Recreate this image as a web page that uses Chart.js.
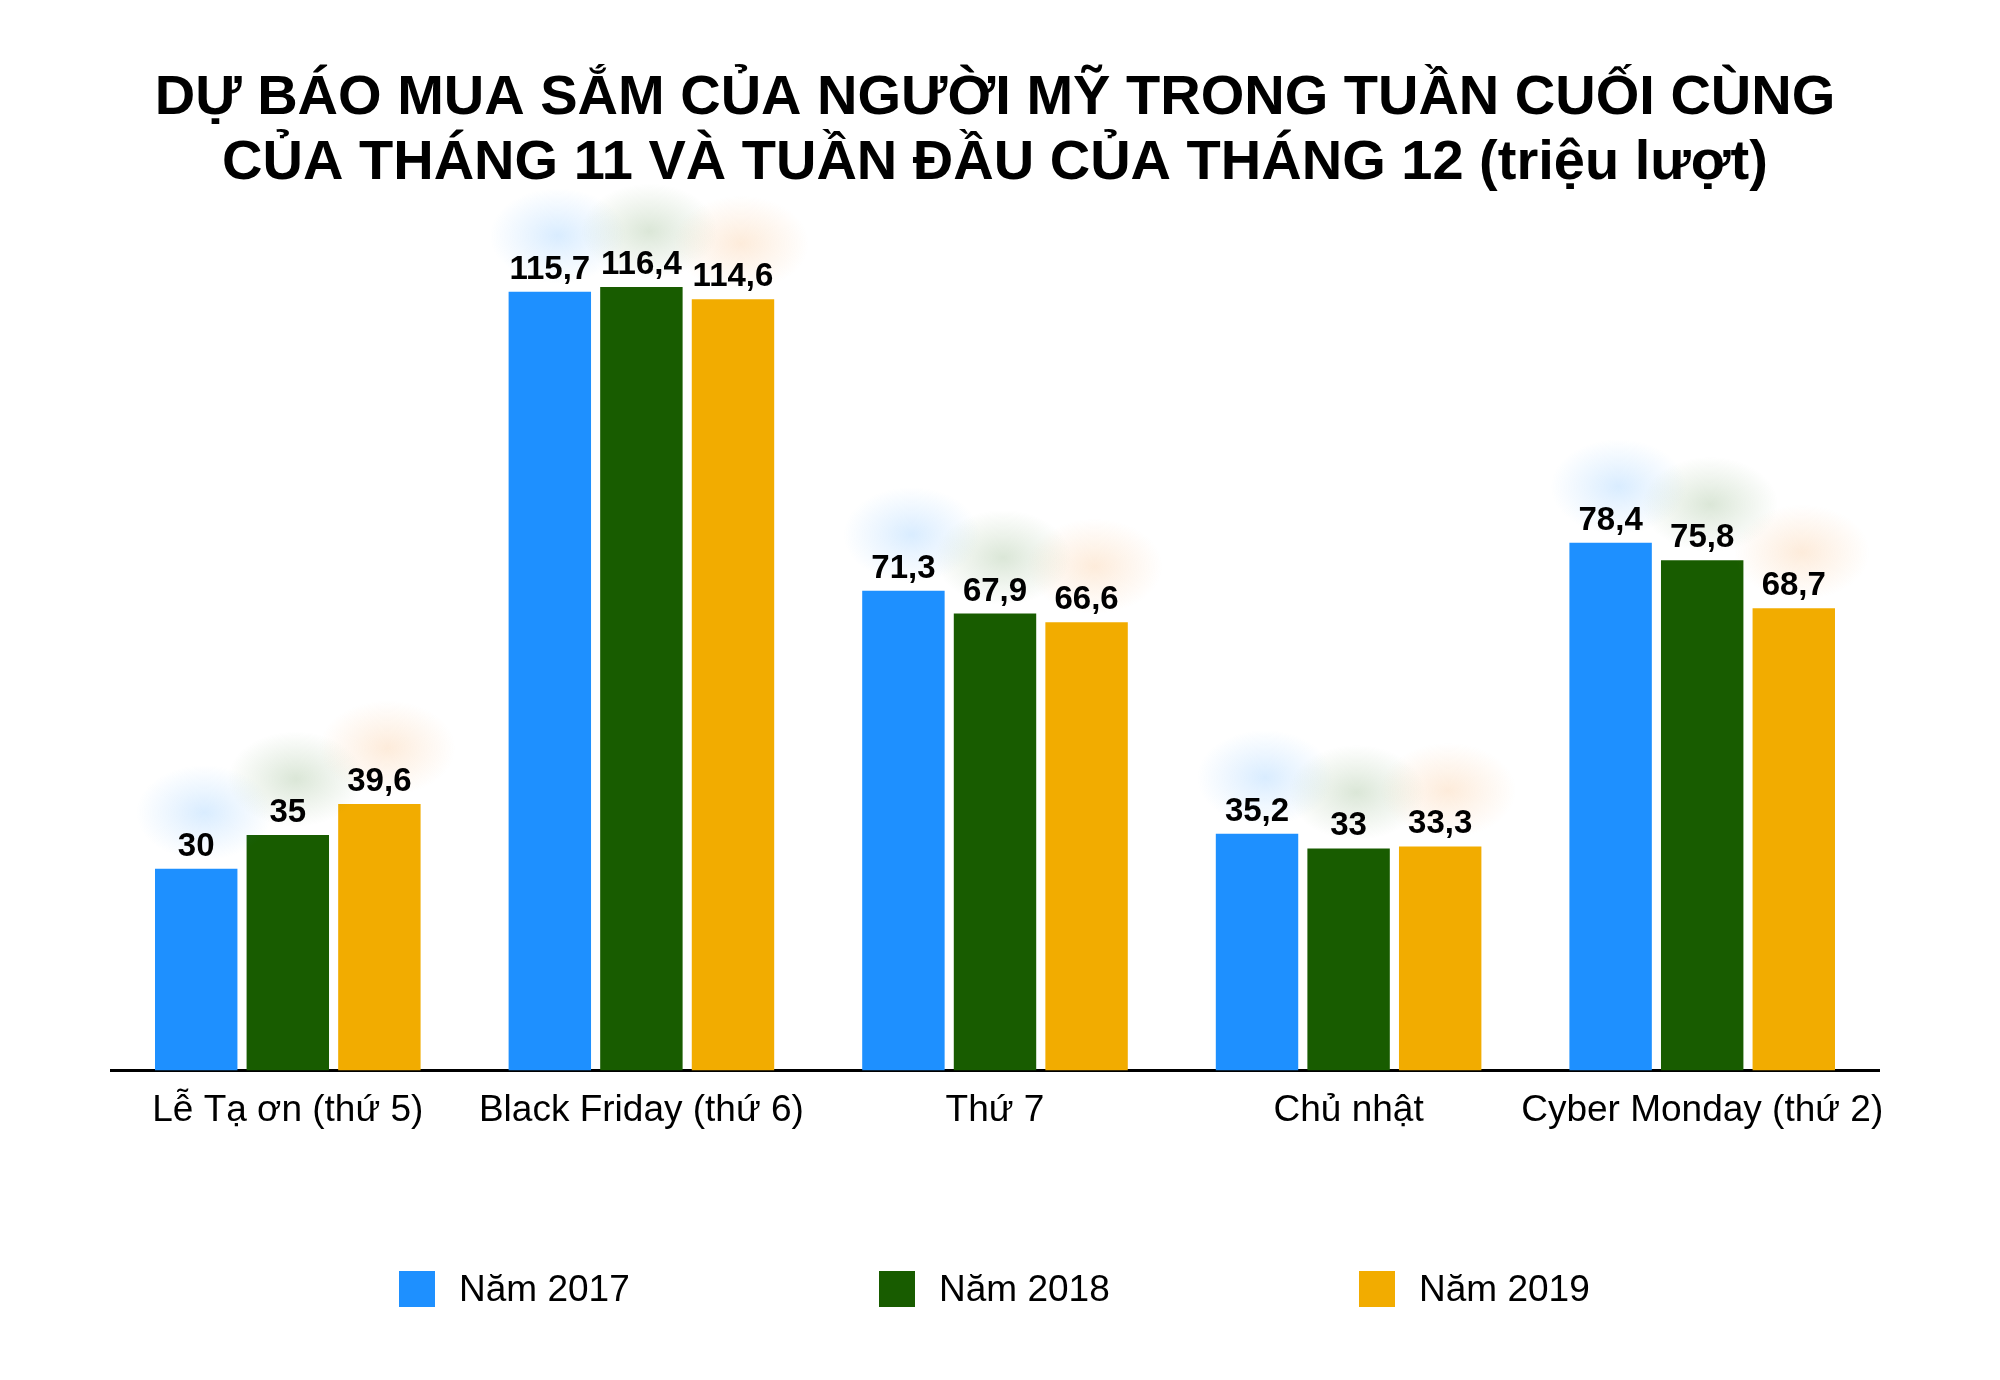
<!DOCTYPE html>
<html>
<head>
<meta charset="utf-8">
<script src="https://cdn.jsdelivr.net/npm/chart.js@4"></script>
<style>
  body { margin: 0; background: #fff; }
  #wrap { position: relative; width: 2000px; height: 1380px; }
  #legend {
    position: absolute; left: 0; top: 1268px; width: 2000px; padding-left: 399px; box-sizing: border-box;
    display: flex; justify-content: flex-start;
    font-family: "Liberation Sans", Arial, sans-serif; font-size: 37px; color: #000;
  }
  .item { display: flex; align-items: center; width: 480px; }
  .box { width: 36px; height: 36px; margin-right: 24px; }
</style>
</head>
<body>
<div id="wrap">
  <canvas id="chart" width="2000" height="1380"></canvas>
  <div id="legend"></div>
</div>
<script>
// categories and values
const categories = ['Lễ Tạ ơn (thứ 5)', 'Black Friday (thứ 6)', 'Thứ 7', 'Chủ nhật', 'Cyber Monday (thứ 2)'];
const seriesNames = ['Năm 2017', 'Năm 2018', 'Năm 2019'];
const values2017 = [30, 115.7, 71.3, 35.2, 78.4];
const values2018 = [35, 116.4, 67.9, 33, 75.8];
const values2019 = [39.6, 114.6, 66.6, 33.3, 68.7];
const titleLines = ['DỰ BÁO MUA SẮM CỦA NGƯỜI MỸ TRONG TUẦN CUỐI CÙNG', 'CỦA THÁNG 11 VÀ TUẦN ĐẦU CỦA THÁNG 12 (triệu lượt)'];

const colors = ['#1E90FF', '#185C00', '#F2AC00'];
const glows = ['30,144,255', '40,110,20', '245,140,40'];
const FONT = '"Liberation Sans", Arial, sans-serif';

const fmt = v => String(v).replace('.', ',');

// value labels with a soft coloured glow behind them
const valueLabels = {
    id: 'valueLabels',
    afterDatasetsDraw(chart) {
        const ctx = chart.ctx;
        chart.data.datasets.forEach((ds, di) => {
            const meta = chart.getDatasetMeta(di);
            meta.data.forEach((bar, i) => {
                const cx = bar.x + 8, cy = bar.y - 56;
                ctx.save();
                ctx.translate(cx, cy);
                ctx.scale(1, 0.7);
                const g = ctx.createRadialGradient(0, 0, 0, 0, 0, 68);
                g.addColorStop(0, 'rgba(' + glows[di] + ',0.17)');
                g.addColorStop(0.45, 'rgba(' + glows[di] + ',0.09)');
                g.addColorStop(1, 'rgba(' + glows[di] + ',0)');
                ctx.fillStyle = g;
                ctx.beginPath();
                ctx.arc(0, 0, 68, 0, Math.PI * 2);
                ctx.fill();
                ctx.restore();

                ctx.save();
                ctx.font = 'bold 33px ' + FONT;
                ctx.fillStyle = '#000';
                ctx.textAlign = 'center';
                ctx.textBaseline = 'alphabetic';
                ctx.fillText(fmt(ds.data[i]), bar.x, bar.y - 13);
                ctx.restore();
            });
        });
    }
};

const chart = new Chart(document.getElementById('chart'), {
    type: 'bar',
    data: {
        labels: categories,
        datasets: [
            { label: seriesNames[0], data: values2017, backgroundColor: colors[0] },
            { label: seriesNames[1], data: values2018, backgroundColor: colors[1] },
            { label: seriesNames[2], data: values2019, backgroundColor: colors[2] }
        ]
    },
    options: {
        responsive: false,
        animation: false,
        categoryPercentage: 0.777,
        barPercentage: 0.9,
        layout: { padding: { left: 111, right: 121, top: 0, bottom: 237 } },
        scales: {
            x: {
                grid: { display: false },
                border: { display: true, color: '#000', width: 3 },
                ticks: { color: '#000', font: { family: FONT, size: 37 }, padding: 10, maxRotation: 0, minRotation: 0, autoSkip: false }
            },
            y: {
                display: false,
                min: 0,
                max: 124
            }
        },
        plugins: {
            legend: { display: false },
            tooltip: { enabled: false },
            title: {
                display: true,
                text: titleLines,
                color: '#000',
                font: { family: FONT, size: 56, weight: 'bold', lineHeight: 1.16 },
                padding: { top: 66, bottom: 40 }
            }
        }
    },
    plugins: [valueLabels]
});

// legend built from the same series names / colours
const legend = document.getElementById('legend');
seriesNames.forEach((name, i) => {
    const item = document.createElement('div');
    item.className = 'item';
    item.innerHTML = '<div class="box" style="background:' + colors[i] + '"></div><span>' + name + '</span>';
    legend.appendChild(item);
});
</script>
</body>
</html>
